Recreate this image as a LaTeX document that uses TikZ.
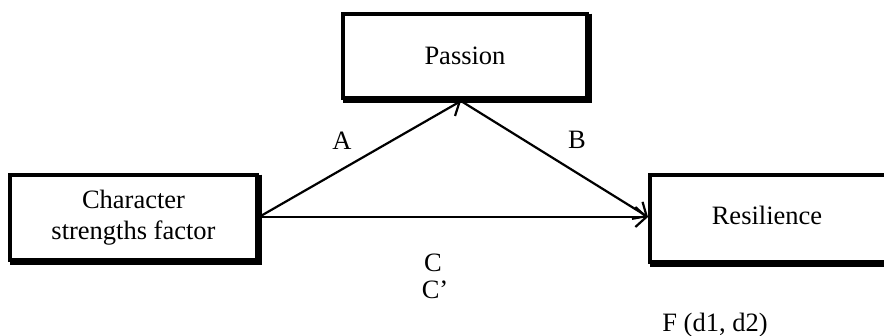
\documentclass[tikz,border=0pt]{standalone}
\usepackage{fontspec}
\setmainfont{Liberation Serif}
\usetikzlibrary{arrows.meta}
\begin{document}
\begin{tikzpicture}[x=1pt,y=-1pt,
  box/.style={draw=black,line width=3.5pt,fill=white,inner sep=0pt,align=center,
    font=\fontsize{26.5}{31}\selectfont},
  shade/.style={line width=6pt,line cap=butt,line join=miter},
  conn/.style={line width=2.2pt,-{Straight Barb[length=11pt,width=20pt,line width=2.2pt]}},
  lbl/.style={font=\fontsize{26.5}{31}\selectfont,inner sep=0pt}]
\useasboundingbox (0,0) rectangle (884,336);
\begin{scope}
\clip (0,0) rectangle (884,336);
\node[box,minimum width=244pt,minimum height=84pt] (pas) at (465,56) {Passion};
\node[box,minimum width=247pt,minimum height=85pt] (cha) at (133.5,217.5) {Character\\strengths factor};
\node[box,minimum width=250pt,minimum height=87pt,text width=250pt] (res) at (775,218.5) {};
\node[lbl] (restext) at (767,215) {Resilience};
\draw[shade] ([yshift=-1.5pt]pas.north east) -- (pas.south east) -- ([xshift=1.5pt]pas.south west);
\draw[shade] ([yshift=-1.5pt]cha.north east) -- (cha.south east) -- ([xshift=1.5pt]cha.south west);
\draw[shade] (res.south east) -- ([xshift=1.5pt]res.south west);
\coordinate (apex) at (461,101);
\coordinate (cout) at (259,217);
\coordinate (rin) at (648,217);
\draw[conn] (cout) -- (apex);
\draw[conn] (apex) -- (rin);
\draw[conn] (cout) -- (rin);
\node[lbl] (la) at (342,141) {A};
\node[lbl] (lb) at (577,140) {B};
\node[lbl] (lc) at (433,263) {C};
\node[lbl] (lc2) at (435,290) {C’};
\node[lbl] (lf) at (715,325) {F (d1, d2)};
\end{scope}
\end{tikzpicture}
\end{document}
